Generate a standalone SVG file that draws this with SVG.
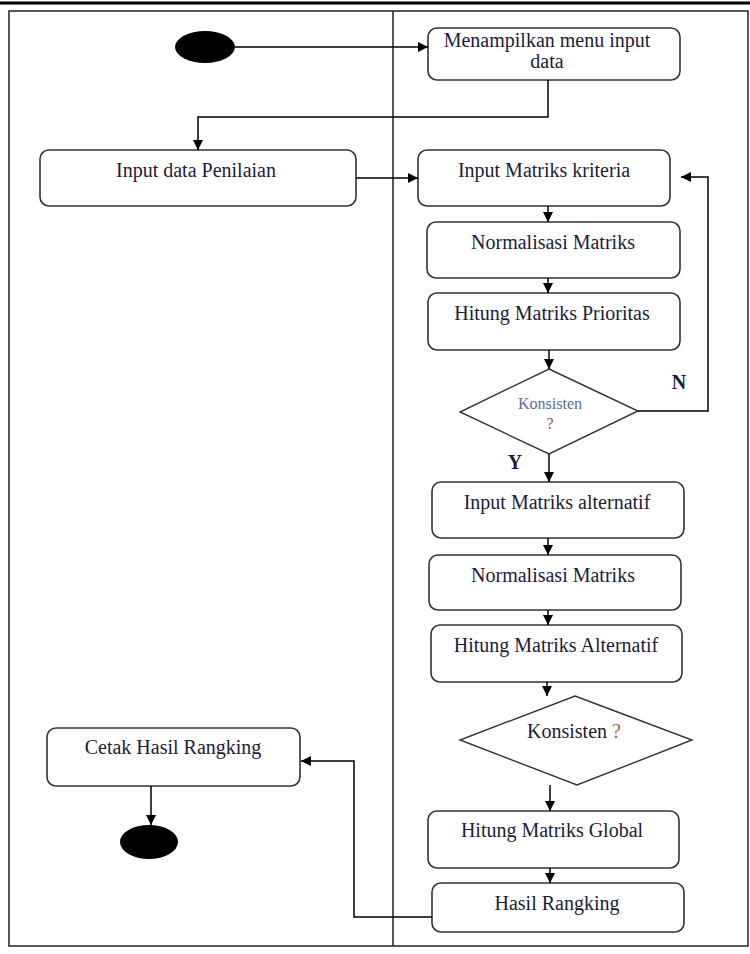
<svg xmlns="http://www.w3.org/2000/svg" width="750" height="954" viewBox="0 0 750 954">
<defs>
<marker id="arr" viewBox="0 0 10 10" refX="10" refY="5" markerWidth="11" markerHeight="10" markerUnits="userSpaceOnUse" orient="auto">
<path d="M0,0 L10,5 L0,10 z" fill="#000"/>
</marker>
<style>
.box{fill:#fff;stroke:#333;stroke-width:1.6}
.dia{fill:#fff;stroke:#333;stroke-width:1.4}
.t{font-family:"Liberation Serif","Times New Roman",serif;font-size:20px;fill:#1c1c3a;text-anchor:middle}
.c{fill:none;stroke:#000;stroke-width:1.5;marker-end:url(#arr)}
.lbl{font-family:"Liberation Serif","Times New Roman",serif;font-size:20px;font-weight:bold;fill:#1c1c3a;text-anchor:middle}
.k{font-family:"Liberation Serif","Times New Roman",serif;font-size:16px;text-anchor:middle}
</style>
</defs>
<rect width="750" height="954" fill="#fff"/>
<line x1="0" y1="3" x2="750" y2="3" stroke="#000" stroke-width="3"/>
<g id="frame" fill="none" stroke="#222" stroke-width="1.5">
<rect x="9" y="11" width="739" height="935"/>
<line x1="393" y1="11" x2="393" y2="946"/>
</g>
<g id="start"><ellipse cx="205" cy="47" rx="30" ry="16" fill="#000"/></g>
<g id="n1"><rect class="box" x="428" y="28" width="252" height="52" rx="9"/>
<text class="t" x="547" y="47">Menampilkan menu input</text><text class="t" x="547" y="68">data</text></g>
<g id="n2"><rect class="box" x="40" y="150" width="316" height="56" rx="9"/><text class="t" x="196" y="177">Input data Penilaian</text></g>
<g id="n3"><rect class="box" x="418" y="150" width="252" height="56" rx="9"/><text class="t" x="544" y="177">Input Matriks kriteria</text></g>
<g id="n4"><rect class="box" x="427" y="222" width="253" height="56" rx="9"/><text class="t" x="553" y="249">Normalisasi Matriks</text></g>
<g id="n5"><rect class="box" x="428" y="293" width="252" height="57" rx="9"/><text class="t" x="552" y="320">Hitung Matriks Prioritas</text></g>
<g id="d1"><polygon class="dia" points="549,369 638,411 549,454 460,412"/>
<text class="k" x="550" y="409" fill="#5a6e98">Konsisten</text>
<text class="k" x="550" y="429" fill="#a0504a">?</text></g>
<g id="n6"><rect class="box" x="432" y="482" width="252" height="56" rx="9"/><text class="t" x="557" y="509">Input Matriks alternatif</text></g>
<g id="n7"><rect class="box" x="429" y="555" width="252" height="55" rx="9"/><text class="t" x="553" y="582">Normalisasi Matriks</text></g>
<g id="n8"><rect class="box" x="431" y="625" width="251" height="57" rx="9"/><text class="t" x="556" y="652">Hitung Matriks Alternatif</text></g>
<g id="d2"><polygon class="dia" points="575,696 692,740 577,785 460,740"/>
<text class="t" x="574" y="738">Konsisten <tspan fill="#9a6a40">?</tspan></text></g>
<g id="n9"><rect class="box" x="428" y="811" width="251" height="57" rx="9"/><text class="t" x="552" y="837">Hitung Matriks Global</text></g>
<g id="n10"><rect class="box" x="432" y="883" width="252" height="49" rx="9"/><text class="t" x="557" y="910">Hasil Rangking</text></g>
<g id="n11"><rect class="box" x="47" y="728" width="253" height="58" rx="9"/><text class="t" x="173" y="754">Cetak Hasil Rangking</text></g>
<g id="end"><ellipse cx="149" cy="842" rx="29" ry="17" fill="#000"/></g>
<g id="connectors">
<path class="c" d="M235,47 H428"/>
<path class="c" d="M548,80 V117 H198 V150"/>
<path class="c" d="M356,178 H418"/>
<path class="c" d="M548,206 V222"/>
<path class="c" d="M548,278 V293"/>
<path class="c" d="M549,350 V369"/>
<path class="c" d="M638,411 H708 V177 H681"/>
<path class="c" d="M549,454 V482"/>
<path class="c" d="M548,538 V555"/>
<path class="c" d="M548,610 V625"/>
<path class="c" d="M547,682 V696"/>
<path class="c" d="M550,785 V811"/>
<path class="c" d="M550,868 V883"/>
<path class="c" d="M432,917 H354 V761 H301"/>
<path class="c" d="M151,786 V825" stroke="#555" stroke-width="2"/>
</g>
<text class="lbl" x="679" y="389">N</text>
<text class="lbl" x="515" y="469">Y</text>
</svg>
